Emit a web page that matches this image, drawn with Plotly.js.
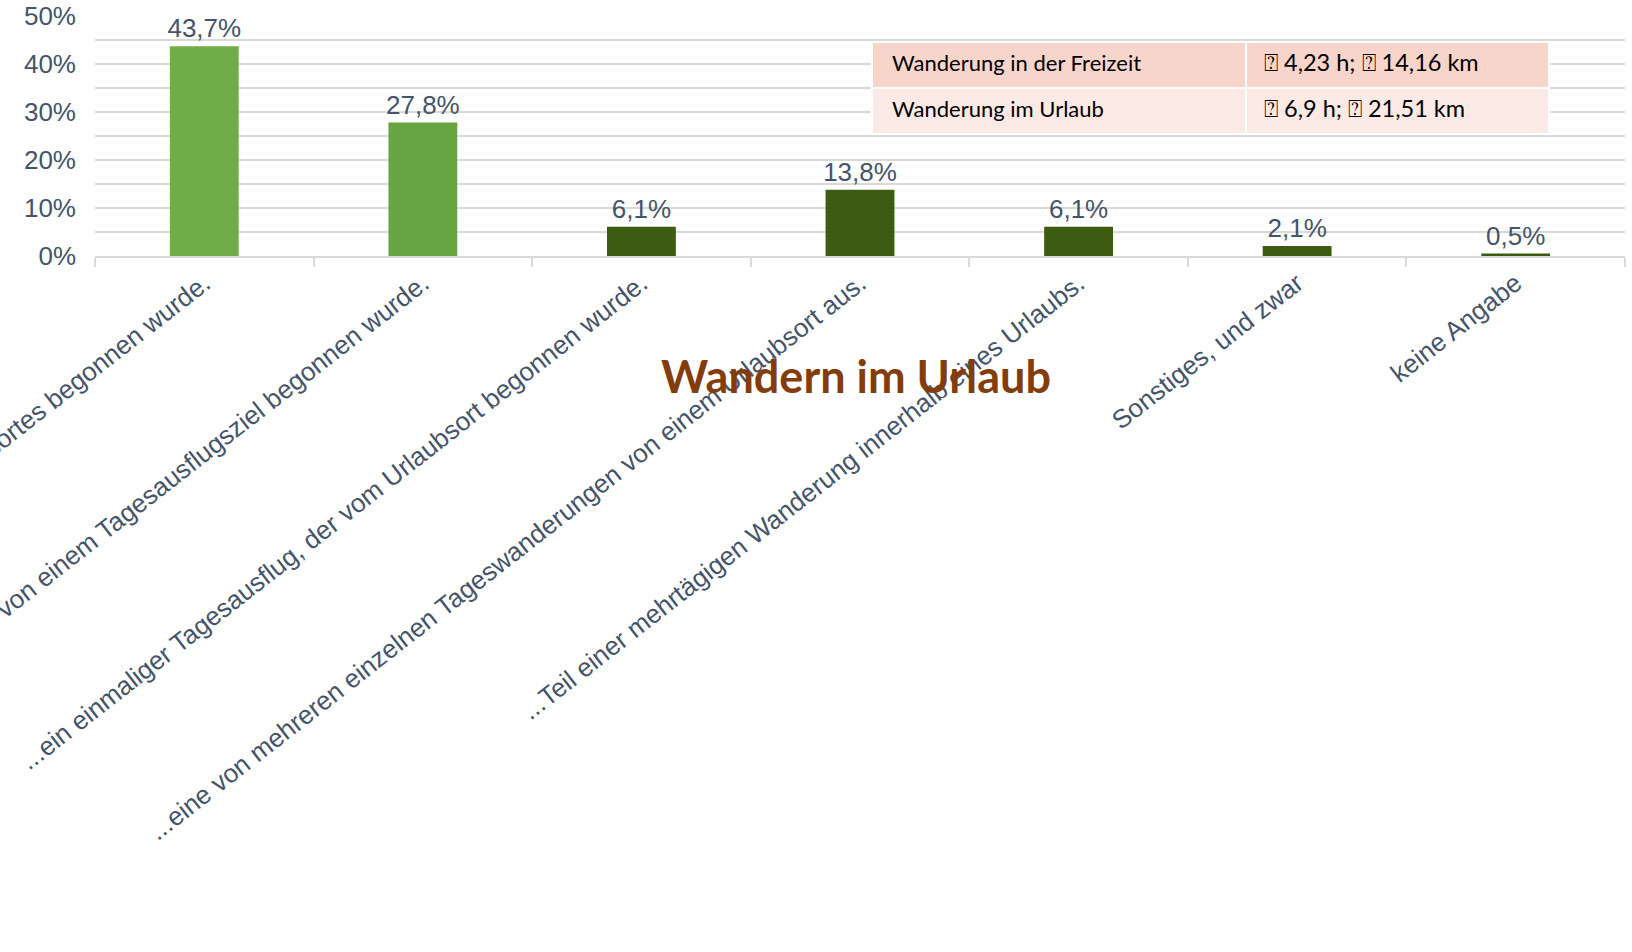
<!DOCTYPE html>
<html><head><meta charset="utf-8">
<script src="https://cdn.plot.ly/plotly-3.0.1.min.js"></script>
<style>html,body{margin:0;padding:0;background:#fff}#chart{width:1632px;height:952px}</style>
</head><body><div id="chart"></div>
<script>
// ---- data ----
const categories = [
  '...eine Wanderung, die außerhalb des Urlaubsortes begonnen wurde.',
  '...ein einmaliger Tagesausflug, der von einem Tagesausflugsziel begonnen wurde.',
  '...ein einmaliger Tagesausflug, der vom Urlaubsort begonnen wurde.',
  '...eine von mehreren einzelnen Tageswanderungen von einem Urlaubsort aus.',
  '...Teil einer mehrtägigen Wanderung innerhalb eines Urlaubs.',
  'Sonstiges, und zwar',
  'keine Angabe'
];
const values = [43.7, 27.8, 6.1, 13.8, 6.1, 2.1, 0.5];
const yTickValues = [0, 10, 20, 30, 40, 50];
const yTickLabels = ['0%', '10%', '20%', '30%', '40%', '50%'];
const tableLabels = ['Wanderung in der Freizeit', 'Wanderung im Urlaub'];
const tableValues = ['\u2370 4,23 h; \u2370 14,16 km', '\u2370 6,9 h; \u2370 21,51 km'];
const chartTitle = 'Wandern im Urlaub';

// ---- styles ----
const barColors = ['#70AD47', '#69A443', '#3D5B11', '#3D5B11', '#3D5B11', '#3D5B11', '#3D5B11'];
const rowFills = ['#F8D5CB', '#FBE9E5'];
const W = 1632, H = 952;
const M = {l: 95, r: 7, t: 16, b: 696};
const plotW = W - M.l - M.r, plotH = H - M.t - M.b;
const px = x => (x - M.l) / plotW;
const py = y => 1 - (y - M.t) / plotH;
const axisFont = {family: '"Liberation Sans", Arial, sans-serif', size: 26, color: '#44546A'};

// table geometry in pixels
const tX = [872, 1246, 1549];
const tY = [42, 88, 134];

const shapes = [];
const annotations = [];
tableLabels.forEach((lab, i) => {
  shapes.push({type: 'rect', xref: 'paper', yref: 'paper', layer: 'above',
    x0: px(tX[0]), x1: px(tX[2]), y0: py(tY[i + 1]), y1: py(tY[i]),
    fillcolor: rowFills[i], line: {color: '#FFFFFF', width: 2}});
  const yc = py((tY[i] + tY[i + 1]) / 2 - 3);
  annotations.push({xref: 'paper', yref: 'paper', x: px(tX[0] + 18), y: yc,
    xanchor: 'left', yanchor: 'middle', showarrow: false, text: lab,
    font: {family: 'Lato, Carlito, sans-serif', size: 22, color: '#000000'}});
  annotations.push({xref: 'paper', yref: 'paper', x: px(tX[1] + 16), y: yc,
    xanchor: 'left', yanchor: 'middle', showarrow: false, text: tableValues[i],
    font: {family: 'Lato, "DejaVu Sans", sans-serif', size: 23.5, color: '#000000'}});
});
shapes.push({type: 'line', xref: 'paper', yref: 'paper', layer: 'above',
  x0: px(tX[1]), x1: px(tX[1]), y0: py(tY[2]), y1: py(tY[0]), line: {color: '#FFFFFF', width: 2}});

const trace = {
  type: 'bar', x: categories, y: values,
  marker: {color: barColors},
  texttemplate: '%{y:.1f}%', textposition: 'outside',
  cliponaxis: false, constraintext: 'none',
  textfont: axisFont,
  hoverinfo: 'none'
};

const layout = {
  width: W, height: H, margin: M,
  paper_bgcolor: '#FFFFFF', plot_bgcolor: '#FFFFFF',
  separators: ',.',
  bargap: 0.685,
  showlegend: false,
  font: {family: '"Liberation Sans", Arial, sans-serif', color: '#44546A'},
  title: {text: chartTitle, xref: 'container', yref: 'container', x: 856 / W, y: 1 - 377 / H,
    xanchor: 'center', yanchor: 'middle',
    font: {family: 'Lato, Carlito, sans-serif', size: 45, color: '#843C0C', weight: 'bold'}},
  xaxis: {type: 'category', automargin: false, tickangle: -38,
    showline: true, linecolor: '#D9D9D9', linewidth: 2,
    ticks: 'outside', tickson: 'boundaries', ticklen: 9, tickcolor: '#D9D9D9', tickwidth: 2,
    showgrid: false,
    tickfont: axisFont},
  yaxis: {range: [0, 50], tickmode: 'array', tickvals: yTickValues, ticktext: yTickLabels, automargin: false,
    showline: false, zeroline: false, ticks: '', ticklabelstandoff: 18,
    showgrid: true, gridcolor: '#D9D9D9', gridwidth: 2,
    minor: {dtick: 5, showgrid: true, gridcolor: '#D9D9D9', gridwidth: 2},
    tickfont: axisFont},
  shapes: shapes,
  annotations: annotations
};

Plotly.newPlot('chart', [trace], layout, {displayModeBar: false, staticPlot: true});
</script>
</body></html>
